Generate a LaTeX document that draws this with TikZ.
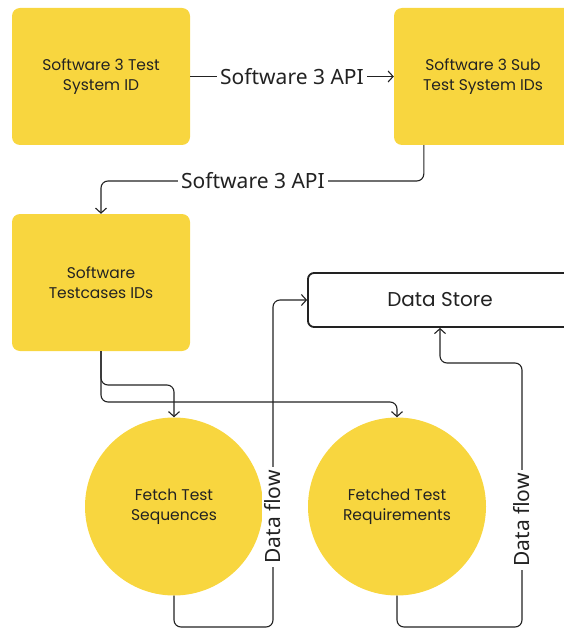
\documentclass[tikz,border=0pt]{standalone}
\usepackage{fontspec}
\setmainfont{Poppins}
\newfontfamily\lblfont{Noto Sans}
\usetikzlibrary{arrows.meta,calc}
\definecolor{boxyellow}{HTML}{F8D63F}
\definecolor{ink}{HTML}{222222}
\tikzset{
  ybox/.style={fill=boxyellow, rounded corners=8pt, minimum width=178pt, minimum height=137pt,
    align=center, text=ink, font=\fontsize{15.5}{20}\selectfont, inner sep=0pt},
  ycirc/.style={circle, fill=boxyellow, minimum size=178pt, align=center, text=ink,
    font=\fontsize{15.5}{20}\selectfont, inner sep=0pt},
  store/.style={draw=ink, line width=1.8pt, rounded corners=6pt, minimum width=264pt,
    minimum height=54pt, text=ink, font=\fontsize{20}{24}\selectfont, inner sep=0pt},
  conn/.style={draw=ink, line width=1.1pt, rounded corners=7pt},
  tip/.style={-{Straight Barb[length=5pt,width=11pt,line width=1.1pt]}},
  lbl/.style={fill=white, text=ink, font=\lblfont\fontsize{21}{24}\selectfont, inner sep=3pt}
}
\begin{document}
\begin{tikzpicture}[x=1pt,y=-1pt]
\useasboundingbox (0,0) rectangle (564,631);
% process boxes
\node[ybox] (b1) at (101,76.5) {Software 3 Test\\System ID};
\node[ybox] (b2) at (483,76.5) {Software 3 Sub\\Test System IDs};
\node[ybox] (b3) at (101,282.5) {Software\\Testcases IDs};
% fetch steps
\node[ycirc] (c1) at (174,506.5) {Fetch Test\\Sequences};
\node[ycirc] (c2) at (397,506.5) {Fetched Test\\Requirements};
% storage
\node[store] (ds) at (440,300) {Data Store};
% helper points for the routed connectors
\coordinate (m1) at (253,181);
\coordinate (j1) at (0,385);
\coordinate (j2) at (0,402);
\coordinate (d1) at (273,627);
\coordinate (d2) at (522,627);
\coordinate (k2) at (440,363);
% API calls
\draw[conn,tip] (b1.east) -- node[lbl] (l1) {Software 3 API} (b2.west);
\draw[conn,tip] ([xshift=30pt]b2.south west) |- (m1) node[lbl] (l2) {Software 3 API} -| (b3.north);
% testcase fan-out
\draw[conn,tip] (b3.south) |- (c1.north |- j1) -- (c1.north);
\draw[conn,tip] (b3.south) |- (c2.north |- j2) -- (c2.north);
% results into the store
\draw[conn,tip] (c1.south) |- (d1) |- (ds.west);
\draw[conn,tip] (c2.south) |- (d2) |- (k2) -- (ds.south);
\node[lbl, rotate=90] (l3) at (273,517) {Data flow};
\node[lbl, rotate=90] (l4) at (522,520) {Data flow};
\end{tikzpicture}
\end{document}
